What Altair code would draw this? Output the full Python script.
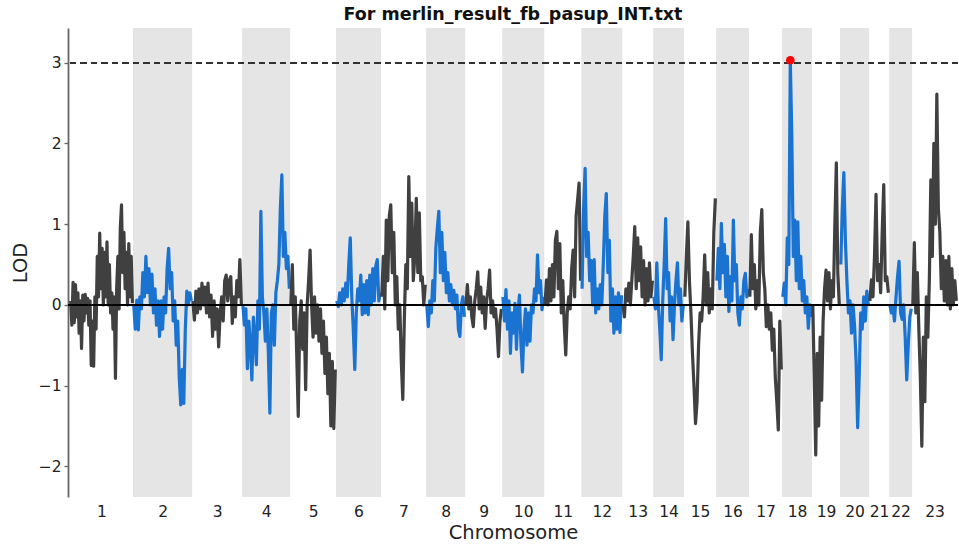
import altair as alt
import pandas as pd

# Chromosome names and genetic lengths (cM)
chrom_names = [str(i) for i in range(1, 24)]
chrom_len = [277, 260, 220, 211, 202, 198, 198, 172, 163, 185, 163, 180,
             136, 136, 141, 145, 145, 132, 123, 128, 88, 101, 198]

# LOD scores along each chromosome (markers evenly spaced)
lod_1 = [0.05, -0.25, 0.28, -0.22, 0.25, -0.15, 0.15, -0.35, 0.05, -0.54, 0.12, -0.2,
         0.13, -0.1, 0.08, -0.25, 0.05, -0.75, -0.2, -0.76, 0.1, -0.3, 0.6, 0.1, 0.89,
         0.2, 0.7, 0.0, 0.65, 0.1, 0.78, 0.0, 0.5, -0.1, 0.15, -0.3, 0.1, -0.91, 0.2,
         0.6, -0.05, 0.95, 1.24, 0.4, 0.9, 0.2, 0.65, 0.0, 0.76, 0.1, 0.6, 0.02]
lod_2 = [0.0, -0.3, 0.06, -0.31, 0.1, -0.05, 0.4, 0.1, 0.6, 0.15, 0.45, 0.0, 0.38, -0.1,
         0.2, -0.25, 0.05, -0.39, 0.05, -0.3, 0.1, -0.1, 0.45, 0.70, 0.2, 0.4, -0.2, 0.05,
         -0.5, -0.2, -0.9, -1.24, -0.8, -1.22, -0.3, 0.17, 0.0, 0.15, 0.05]
lod_3 = [0.05, -0.19, 0.17, -0.1, 0.2, -0.05, 0.27, 0.0, 0.22, -0.1, 0.27, -0.15, 0.12,
         -0.39, 0.05, -0.3, -0.05, -0.52, -0.1, 0.1, -0.2, 0.3, 0.37, 0.05, 0.3, 0.35,
         -0.23, 0.1, -0.15, 0.3, 0.1, 0.56, 0.0]
lod_4 = [0.0, -0.25, -0.05, -0.79, -0.2, -0.5, -0.93, -0.15, -0.4, -0.74, 0.05, -0.3,
         1.16, 0.1, -0.1, -0.45, -0.05, -0.6, -1.34, -0.1, 0.0, -0.5, 0.15, 0.3, 0.5,
         1.2, 1.61, 0.6, 0.9, 0.45, 0.6, 0.2]
lod_5 = [0.0, 0.5, -0.3, 0.1, -0.64, -1.38, -0.2, 0.05, -0.55, -0.1, -1.05, 0.0, 0.3,
         0.68, 0.0, -0.4, 0.1, -0.35, 0.0, -0.45, -0.05, -0.6, -0.2, -0.85, -0.4, -1.1,
         -0.6, -1.5, -0.7, -1.53, -0.8]
lod_6 = [0.05, -0.02, 0.15, 0.0, 0.2, 0.05, 0.27, 0.1, 0.5, 0.83, 0.1, -0.3, -0.8, -0.1,
         0.2, 0.05, 0.37, -0.12, 0.25, -0.1, 0.3, -0.12, 0.37, 0.0, 0.45, 0.05, 0.48,
         0.56, 0.05, 0.15]
lod_7 = [0.1, 0.6, -0.05, 1.05, 0.3, 1.1, 1.24, 0.4, 0.9, 0.0, 0.35, -0.3, 0.0, -0.7,
         -1.17, -0.2, 0.5, 0.2, 1.59, 0.6, 1.26, 0.3, 0.6, 1.32, 0.4, 1.14, 0.3, 0.35,
         0.0, 0.25]
lod_8 = [0.0, -0.27, 0.05, -0.1, 0.3, 0.05, 0.7, 0.95, 1.16, 0.4, 0.9, 0.3, 0.65, 0.15,
         0.4, 0.05, 0.25, 0.0, 0.18, -0.05, 0.12, -0.3, -0.39, 0.0, 0.1, -0.15]
lod_9 = [0.0, 0.25, -0.05, 0.1, -0.15, -0.27, 0.05, 0.2, 0.41, -0.05, 0.22, -0.1, 0.1,
         -0.29, 0.05, 0.2, 0.43, -0.1, 0.05, -0.15, -0.05, -0.3, -0.64, -0.2, -0.05]
lod_10 = [0.1, -0.2, 0.19, -0.3, 0.05, -0.6, -0.1, -0.35, 0.02, -0.55, -0.1, 0.12, -0.5,
          -0.83, -0.3, -0.05, -0.5, -0.1, -0.45, 0.0, -0.1, 0.2, 0.05, 0.62, 0.15, 0.3,
          -0.06, 0.1]
lod_11 = [0.0, 0.31, 0.0, 0.45, 0.05, 0.5, 0.1, 0.8, 0.91, 0.2, 0.76, -0.1, 0.3, -0.25,
          -0.62, -0.1, 0.1, -0.05, 0.45, 0.68, 0.1, 1.1, 1.3, 1.51, 0.3]
lod_12 = [0.2, 1.2, 1.69, 0.6, 0.9, 0.3, 0.55, 0.0, 0.56, -0.1, 0.2, -0.05, 0.25, 0.0,
          0.5, 1.1, 1.38, 0.4, 0.8, -0.2, 0.2, -0.35, 0.1, -0.3, 0.15, -0.34, 0.12]
lod_13 = [0.0, -0.15, 0.2, 0.05, 0.27, 0.0, 0.3, 0.6, 0.97, 0.2, 0.83, 0.3, 0.72, 0.1,
          0.55, 0.0, 0.45, 0.05, 0.52, 0.1, 0.3]
lod_14 = [0.1, -0.05, 0.52, 0.0, -0.3, -0.68, 0.05, 0.5, 1.07, 0.2, 0.4, -0.2, 0.1,
          -0.43, 0.0, 0.3, 0.52, 0.0, 0.2, -0.2, 0.0]
lod_15 = [0.1, 0.6, 1.03, 0.3, -0.1, -0.6, -1.0, -1.47, -1.2, -0.5, -0.1, -0.2, 0.1,
          0.62, 0.0, 0.4, -0.1, 0.2, -0.05, 0.9, 1.32]
lod_16 = [0.3, 0.7, 0.2, 1.01, 0.4, 0.75, 0.1, 0.6, -0.08, 0.35, 0.05, 1.05, 0.3, 0.5,
          -0.1, -0.25, 0.1, -0.05, 0.3, 0.39, 0.1, 0.2]
lod_17 = [0.1, 0.87, 0.2, 0.5, -0.05, 0.3, 0.0, 0.9, 1.18, 0.4, 0.2, -0.27, 0.0, -0.3,
          -0.1, -0.56, -0.3, -0.9, -1.2, -1.55, -0.2, -0.8]
lod_18 = [0.1, 0.27, 0.0, 0.83, 0.5, 3.03, 2.1, 0.6, 1.05, 0.3, 1.03, 0.2, 0.6, 0.05,
          0.3, -0.1, 0.1, -0.29, 0.0, -0.15]
lod_19 = [0.0, -0.9, -1.86, -0.6, -1.5, -0.4, -1.18, -0.2, 0.2, 0.43, 0.05, 0.4, -0.05,
          0.3, 0.1, 1.0, 1.76, 0.4, 0.0]
lod_20 = [0.5, 1.2, 1.64, 0.8, 0.3, -0.1, 0.05, -0.35, 0.0, -0.26, -0.7, -1.52, -0.9,
          -0.1, -0.3, 0.1, -0.2, 0.17, 0.0]
lod_21 = [0.05, 0.31, 0.1, 0.6, 1.37, 0.3, 0.5, 0.15, 0.9, 1.49, 0.3, 0.35, 0.15]
lod_22 = [0.0, -0.1, -0.02, -0.2, 0.1, 0.35, 0.54, -0.1, -0.18, 0.0, -0.4, -0.93, -0.5,
          -0.15, -0.05]
lod_23 = [0.0, 0.77, -0.1, 0.4, -0.3, -0.9, -1.75, -0.4, -1.2, 0.1, -0.4, 0.3, 1.55, 0.6,
          2.0, 1.0, 2.61, 1.2, 0.9, 0.2, 0.6, 0.05, 0.55, 0.0, 0.6, -0.05, 0.45, 0.0,
          0.3, 0.05]

lod_values = [lod_1, lod_2, lod_3, lod_4, lod_5, lod_6, lod_7, lod_8, lod_9, lod_10,
              lod_11, lod_12, lod_13, lod_14, lod_15, lod_16, lod_17, lod_18, lod_19,
              lod_20, lod_21, lod_22, lod_23]

threshold = 3.0
y_min, y_max = -2.38, 3.43

# Build the marker table along a cumulative genome coordinate
rows, bands, centers = [], [], []
offset = 0.0
for i, (name, length, vals) in enumerate(zip(chrom_names, chrom_len, lod_values)):
    n = len(vals)
    group = "odd" if (i + 1) % 2 else "even"
    for k, v in enumerate(vals):
        rows.append({"chrom": name, "pos": offset + (k + 0.5) * length / n,
                     "lod": v, "group": group})
    if group == "even":
        bands.append({"start": offset, "end": offset + length})
    centers.append(offset + length / 2)
    offset += length

markers = pd.DataFrame(rows)
band_df = pd.DataFrame(bands)
peak_df = markers.loc[[markers["lod"].idxmax()]]

x_scale = alt.Scale(domain=[-9, offset + 4], nice=False, zero=False)
y_scale = alt.Scale(domain=[y_min, y_max], nice=False, zero=False)

names_js = "[" + ",".join(f"'{n}'" for n in chrom_names) + "]"
centers_js = "[" + ",".join(repr(c) for c in centers) + "]"

x_axis = alt.Axis(values=centers, labelExpr=f"{names_js}[indexof({centers_js}, datum.value)]",
                  domain=False, ticks=False, grid=False, labelOverlap=False,
                  labelFlush=False, labelFontSize=15.5, labelPadding=7,
                  labelColor="#222", title="Chromosome", titleFontSize=19.5,
                  titleFontWeight="normal", titlePadding=4, titleColor="#222")
y_axis = alt.Axis(values=[-2, -1, 0, 1, 2, 3], format="d", grid=False,
                  domainColor="#666", domainWidth=1.8, tickColor="#666", tickSize=4,
                  tickWidth=1.3, labelFontSize=15.5, labelPadding=3, labelColor="#222",
                  title="LOD", titleFontSize=19.5, titleFontWeight="normal",
                  titlePadding=8, titleColor="#222")

bands_layer = alt.Chart(band_df).mark_rect(color="#e5e5e5").encode(
    x=alt.X("start:Q", scale=x_scale, axis=x_axis),
    x2="end:Q",
    y=alt.datum(y_max, scale=y_scale, axis=y_axis),
    y2=alt.datum(y_min),
)

threshold_rule = alt.Chart(markers).mark_rule(
    color="#333", strokeWidth=1.3, strokeDash=[6, 4.5]
).encode(y=alt.datum(threshold, scale=y_scale))

lines = alt.Chart(markers).mark_line(strokeWidth=3.2, strokeJoin="round").encode(
    x=alt.X("pos:Q", scale=x_scale),
    y=alt.Y("lod:Q", scale=y_scale),
    detail="chrom:N",
    order="pos:Q",
    color=alt.Color("group:N", scale=alt.Scale(domain=["odd", "even"],
                                               range=["#404040", "#1a73d1"]),
                    legend=None),
)

# Zero baseline drawn over the LOD traces
zero_rule = alt.Chart(markers).mark_rule(color="black", strokeWidth=1.2).encode(
    y=alt.datum(0, scale=y_scale)
)

peak = alt.Chart(peak_df).mark_circle(color="#ff0000", opacity=1, size=75).encode(
    x=alt.X("pos:Q", scale=x_scale),
    y=alt.Y("lod:Q", scale=y_scale),
)

chart = alt.layer(bands_layer, threshold_rule, lines, zero_rule, peak).properties(
    width=890,
    height=469,
    title=alt.TitleParams("For merlin_result_fb_pasup_INT.txt", fontSize=17.5,
                          fontWeight="bold", anchor="middle", offset=5, color="#111"),
    autosize=alt.AutoSizeParams(type="none"),
    padding={"left": 68, "top": 28, "right": 1, "bottom": 51},
).configure(
    font="DejaVu Sans",
).configure_view(stroke=None)

chart.save("out.html", embed_options={"renderer": "svg", "actions": False})
